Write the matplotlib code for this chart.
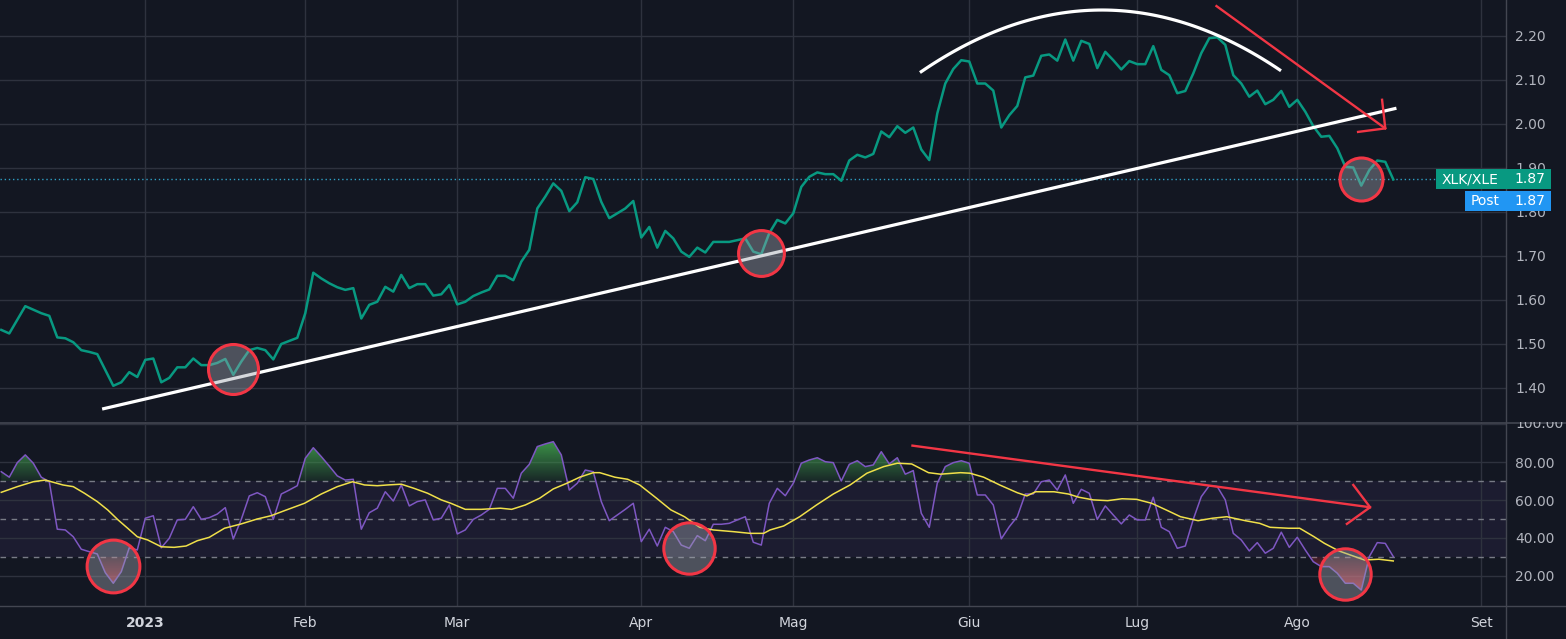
import numpy as np
import matplotlib
matplotlib.use("Agg")
import matplotlib.pyplot as plt
from matplotlib.path import Path
from matplotlib.patches import Rectangle
from matplotlib.lines import Line2D
from matplotlib.transforms import Bbox, TransformedBbox
from matplotlib.colors import to_rgb

# ---- data (one value per daily bar) ----
price = [1.532, 1.524, 1.555, 1.586, 1.578, 1.570, 1.564, 1.515, 1.513, 1.504,
         1.486, 1.482, 1.477, 1.441, 1.405, 1.413, 1.436, 1.425, 1.464, 1.467,
         1.413, 1.423, 1.447, 1.447, 1.467, 1.452, 1.452, 1.457, 1.466, 1.430,
         1.460, 1.486, 1.491, 1.486, 1.465, 1.500, 1.507, 1.514, 1.570, 1.662,
         1.649, 1.638, 1.629, 1.623, 1.627, 1.558, 1.589, 1.596, 1.630, 1.619,
         1.657, 1.627, 1.636, 1.636, 1.610, 1.613, 1.634, 1.590, 1.596, 1.609,
         1.617, 1.624, 1.655, 1.655, 1.645, 1.687, 1.714, 1.808, 1.835, 1.865,
         1.848, 1.802, 1.822, 1.879, 1.875, 1.823, 1.786, 1.797, 1.808, 1.825,
         1.742, 1.766, 1.719, 1.757, 1.740, 1.710, 1.698, 1.719, 1.708, 1.732,
         1.732, 1.732, 1.736, 1.740, 1.710, 1.704, 1.752, 1.782, 1.774, 1.797,
         1.857, 1.880, 1.890, 1.886, 1.886, 1.871, 1.917, 1.930, 1.924, 1.932,
         1.983, 1.970, 1.995, 1.980, 1.992, 1.942, 1.918, 2.024, 2.092, 2.125,
         2.145, 2.142, 2.092, 2.092, 2.076, 1.992, 2.020, 2.041, 2.106, 2.110,
         2.155, 2.158, 2.144, 2.192, 2.144, 2.189, 2.182, 2.127, 2.164, 2.145,
         2.124, 2.143, 2.136, 2.136, 2.177, 2.123, 2.111, 2.070, 2.075, 2.115,
         2.161, 2.195, 2.197, 2.180, 2.111, 2.092, 2.062, 2.076, 2.045, 2.055,
         2.075, 2.039, 2.055, 2.028, 1.995, 1.971, 1.973, 1.945, 1.903, 1.901,
         1.860, 1.895, 1.917, 1.914, 1.874]

rsi = [75.0, 72.1, 79.8, 83.9, 79.5, 72.1, 69.7, 44.6, 44.2, 40.6,
       34.0, 32.7, 31.5, 21.6, 16.0, 22.1, 34.8, 33.6, 50.4, 51.7,
       34.8, 39.8, 49.5, 49.8, 56.5, 49.8, 50.7, 52.6, 56.0, 39.4,
       49.8, 62.2, 63.9, 61.8, 49.8, 63.2, 65.3, 67.6, 82.1, 87.7,
       83.0, 78.0, 72.8, 70.6, 71.0, 44.6, 53.3, 55.7, 64.4, 59.5,
       68.0, 56.9, 59.2, 60.1, 49.5, 50.4, 57.4, 42.1, 44.2, 49.8,
       52.1, 55.1, 66.2, 66.2, 61.0, 74.2, 78.9, 88.3, 89.7, 90.9,
       83.9, 65.3, 68.9, 75.9, 75.0, 59.2, 49.1, 52.1, 55.1, 58.3,
       38.0, 44.6, 35.7, 45.6, 43.3, 36.2, 34.5, 41.2, 38.5, 47.2,
       47.2, 47.7, 49.5, 51.2, 37.7, 36.2, 58.3, 66.2, 62.3, 68.9,
       79.5, 81.2, 82.4, 80.3, 79.8, 70.1, 78.9, 80.8, 77.7, 78.6,
       85.6, 79.1, 82.4, 73.7, 75.6, 53.0, 45.6, 68.9, 77.7, 79.8,
       80.8, 79.5, 62.7, 62.7, 57.4, 39.5, 45.9, 51.2, 63.2, 63.2,
       69.7, 70.6, 65.3, 73.3, 58.3, 65.7, 63.6, 49.8, 56.9, 52.1,
       47.4, 52.1, 49.5, 49.5, 61.5, 45.6, 43.3, 34.5, 35.7, 49.8,
       61.8, 67.6, 67.1, 60.1, 42.4, 38.9, 33.1, 37.5, 31.9, 34.5,
       43.0, 35.0, 40.3, 33.6, 27.4, 24.8, 24.8, 21.3, 16.0, 16.0,
       12.4, 30.1, 37.5, 37.1, 30.1]

# RSI moving average, sampled where it bends
ma_idx = [0, 2, 4, 5.5, 7.7, 9, 10.4, 12, 13.3, 14.6, 15.8, 17, 18.3, 20, 21.6,
          23.1, 24.5, 26, 27.9, 30, 32, 33.7, 35.4, 37.9, 40, 42, 43.9, 45.4, 47,
          48.3, 50, 51.6, 53.3, 55, 56.2, 58, 60, 62.4, 63.8, 65.5, 67.3, 69, 70.7,
          72.3, 74, 74.8, 76.7, 78.3, 79.8, 81.9, 83.7, 85.4, 87.3, 89, 91.5, 93.6,
          95.3, 96.1, 97.8, 99.8, 101.9, 104, 106.1, 108.2, 110.3, 112, 113.8,
          115.9, 117.4, 119.9, 121.1, 122.8, 124.8, 127, 128.2, 129.3, 131.6,
          133.4, 134.7, 136.5, 138.3, 140.1, 141.9, 143.8, 145.6, 147.4, 149.6,
          151.4, 153.2, 155.5, 157.3, 158.6, 160.9, 162.3, 164.1, 165.4, 167.2,
          169, 170.4, 172.2, 174]
ma_val = [64.1, 67.1, 69.7, 70.6, 68.0, 67.1, 63.6, 59.2, 54.8, 49.5, 45.1, 40.6,
          38.9, 35.3, 35.0, 35.7, 38.5, 40.3, 45.1, 47.4, 50.0, 51.7, 54.4, 58.3,
          63.2, 67.1, 69.7, 68.0, 67.6, 68.0, 68.4, 66.2, 63.6, 60.1, 58.3, 55.1,
          55.1, 55.7, 55.1, 57.4, 61.0, 65.9, 68.9, 72.1, 74.5, 74.5, 72.1, 71.0,
          68.0, 61.0, 54.8, 51.2, 45.6, 44.2, 43.3, 42.4, 42.4, 44.2, 46.3, 51.2,
          57.4, 63.2, 68.0, 74.2, 77.7, 79.5, 79.1, 74.5, 73.7, 74.5, 74.2, 72.1,
          68.0, 63.9, 62.2, 64.4, 64.4, 63.2, 61.5, 60.1, 59.7, 60.7, 60.4, 58.3,
          54.8, 51.2, 49.1, 50.4, 51.2, 49.1, 47.7, 45.6, 45.1, 45.1, 40.6, 37.1,
          33.1, 30.4, 28.3, 28.7, 27.8]

month_idx = [18, 38, 57, 80, 99, 121, 142, 162, 185]
month_lbl = ["2023", "Feb", "Mar", "Apr", "Mag", "Giu", "Lug", "Ago", "Set"]
price_ticks = [1.40, 1.50, 1.60, 1.70, 1.80, 1.90, 2.00, 2.10, 2.20]
rsi_ticks = [20, 40, 60, 80]
last_price = price[-1]

# hand-drawn annotations (bar index, value)
trend_x, trend_y = [12.8, 174.2], [1.353, 2.035]
arc_x, arc_y = [115.0, 137.3, 159.8], [2.119, 2.259, 2.123]
arrow_top = ([151.9, 173.0], [2.268, 1.990])
wing_top = ([172.6, 173.0, 169.6], [2.055, 1.990, 1.982])
arrow_rsi = ([113.9, 171.1], [88.8, 56.2])
wing_rsi = ([169.0, 171.1, 168.2], [68.0, 56.2, 47.4])
circles_top = [(29.0, 1.443, 36), (95.0, 1.706, 33), (170.0, 1.875, 31)]
circles_rsi = [(14.0, 25.3, 38), (86.0, 34.5, 37), (168.0, 20.9, 37)]

# ---- styling ----
W, H = 1566, 639
BG = "#131722"
GRID = "#2e323e"
TXT = "#b2b5be"
RED = "#f23645"
CIRCLE_FC = (0.62, 0.64, 0.68, 0.42)
plt.rcParams["font.family"] = ["DejaVu Sans"]


def fx(px):
    return px / W


def fy(py):
    return 1 - py / H


fig = plt.figure(figsize=(W / 100, H / 100), dpi=100, facecolor=BG)
ax = fig.add_axes([0, fy(421), fx(1506), 421 / H])
ax2 = fig.add_axes([0, fy(606), fx(1506), (606 - 422) / H])

x = np.arange(len(price))
xlim = (-0.16, 188.09)

for a in (ax, ax2):
    a.set_facecolor(BG)
    for s in a.spines.values():
        s.set_visible(False)
    a.set_xlim(*xlim)
    a.set_xticks(month_idx)
    a.grid(True, color=GRID, lw=1)
    a.set_axisbelow(True)
    a.yaxis.tick_right()
    a.tick_params(axis="y", length=0, pad=6.5, labelsize=10, colors=TXT)
    a.tick_params(axis="x", length=0)

# ---- price pane ----
ax.set_ylim(1.325, 2.2818)
ax.set_yticks(price_ticks)
ax.set_yticklabels([f"{v:.2f}" for v in price_ticks])
ax.tick_params(labelbottom=False)

ax.axhline(last_price, color="#2f9fc4", ls=(0, (1, 2)), lw=1, zorder=2)
ax.plot(x, price, color="#089981", lw=1.8, zorder=3)
ax.plot(trend_x, trend_y, color="white", lw=2.3, zorder=4)
c = np.polyfit(arc_x, arc_y, 2)
arc_pts = np.linspace(arc_x[0], arc_x[-1], 80)
ax.plot(arc_pts, np.polyval(c, arc_pts), color="white", lw=2.3, zorder=4)
ax.plot(*arrow_top, color=RED, lw=1.7, zorder=4)
ax.plot(*wing_top, color=RED, lw=1.7, zorder=4)
for cx, cy, d in circles_top:
    ax.plot(cx, cy, "o", ms=d, mfc=CIRCLE_FC, mec=RED, mew=2.2, zorder=5)

# ---- RSI pane ----
ax2.set_ylim(3.97, 101.3)
ax2.set_yticks(rsi_ticks)
ax2.set_yticklabels([f"{v:.2f}" for v in rsi_ticks])
ax2.axhline(100, color=GRID, lw=1, zorder=0)
ax2.set_xticklabels(month_lbl)
ax2.tick_params(axis="x", pad=7, labelsize=10, colors="#d1d4dc")
ax2.get_xticklabels()[0].set_fontweight("bold")

ax2.axhspan(30, 70, color="#7e57c2", alpha=0.09, lw=0, zorder=0.5)
for lvl in (30, 50, 70):
    ax2.axhline(lvl, color="#787b86", ls=(0, (4, 4)), lw=1, zorder=1)

rsi_arr = np.array(rsi)


def gradient_fill(a, yv, ref, above, color, lo, hi, a_lo, a_hi):
    where = yv > ref if above else yv < ref
    poly = a.fill_between(x, yv, ref, where=where, interpolate=True,
                          facecolor="none", edgecolor="none")
    path = Path.make_compound_path(*poly.get_paths())
    img = np.zeros((100, 1, 4))
    img[..., :3] = to_rgb(color)
    img[:, 0, 3] = np.linspace(a_lo, a_hi, 100)
    im = a.imshow(img, extent=[x[0], x[-1], lo, hi], origin="lower",
                  aspect="auto", zorder=1.5, interpolation="bilinear")
    im.set_clip_path(path, transform=a.transData)


gradient_fill(ax2, rsi_arr, 70, True, "#43a84f", 70, 95, 0.12, 1.0)
gradient_fill(ax2, rsi_arr, 30, False, "#f23645", 5, 30, 1.0, 0.15)
ax2.set_xlim(*xlim)
ax2.set_ylim(3.97, 101.3)

ax2.plot(x, rsi, color="#7e57c2", lw=1.1, zorder=3)
ax2.plot(ma_idx, ma_val, color="#f0e04a", lw=1.1, zorder=3)
ax2.plot(*arrow_rsi, color=RED, lw=1.7, zorder=4)
ax2.plot(*wing_rsi, color=RED, lw=1.7, zorder=4)
for cx, cy, d in circles_rsi:
    ax2.plot(cx, cy, "o", ms=d, mfc=CIRCLE_FC, mec=RED, mew=2.2, zorder=5)

# partially hidden 100.00 label
t = fig.text(fx(1515), fy(424), "100.00", color=TXT, fontsize=10, va="center", ha="left")
t.set_clip_box(TransformedBbox(Bbox([[0, 0], [1, fy(421.5)]]), fig.transFigure))
t.set_clip_on(True)

# frame lines
LC = "#434651"
fig.add_artist(Line2D([fx(1506), fx(1506)], [0, 1], color=LC, lw=1, transform=fig.transFigure))
fig.add_artist(Line2D([0, 1], [fy(606), fy(606)], color=LC, lw=1, transform=fig.transFigure))
fig.add_artist(Line2D([0, 1], [fy(422.5), fy(422.5)], color=LC, lw=1.2, transform=fig.transFigure))

# price labels on the scale
for (x0, x1, y0, y1, col, name) in [(1436, 1551, 169.3, 189.3, "#089981", "XLK/XLE"),
                                     (1465, 1551, 190.7, 210.7, "#2196f3", "Post")]:
    fig.add_artist(Rectangle((fx(x0), fy(y1)), fx(x1 - x0), (y1 - y0) / H,
                             transform=fig.transFigure, facecolor=col, edgecolor="none",
                             zorder=10))
    fig.text(fx(x0 + 6), fy((y0 + y1) / 2), name, color="white", fontsize=10,
             va="center", ha="left", zorder=11)
    fig.text(fx(1545), fy((y0 + y1) / 2), f"{last_price:.2f}", color="white", fontsize=10,
             va="center", ha="right", zorder=11)

fig.savefig("out.png", dpi=100, facecolor=BG)
